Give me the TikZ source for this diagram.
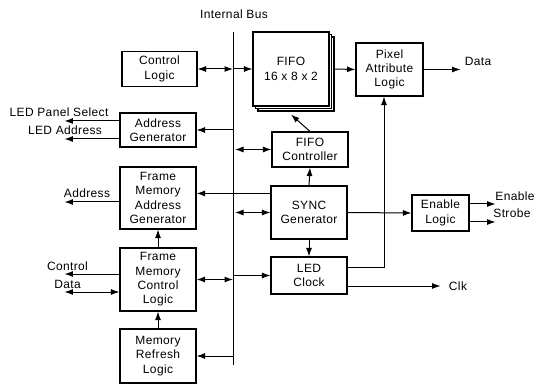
\documentclass[tikz,border=0pt]{standalone}
\usepackage{fontspec}
\setmainfont{Liberation Sans}[LetterSpace=3]
\usetikzlibrary{arrows.meta,shadows}
\begin{document}
\begin{tikzpicture}[x=1pt,y=-1pt,
  blk/.style={draw,line width=1.1pt,fill=white,inner sep=0pt,align=center,
    font=\fontsize{12}{14.3}\selectfont},
  lbl/.style={inner sep=0pt,font=\fontsize{12}{14.3}\selectfont},
  conn/.style={line width=1pt},
  arr/.style={conn,-{Latex[length=8.5pt,width=6pt]}},
  darr/.style={conn,{Latex[length=8.5pt,width=6pt]}-{Latex[length=8.5pt,width=6pt]}}]
\useasboundingbox (0,0) rectangle (544,385);
% bus
\coordinate (bustop) at (233,32);
\coordinate (busbot) at (233,365);
\draw[conn] (bustop) -- (busbot);
\node[lbl] (buslbl) at (234,14) {Internal Bus};
% blocks
\node[blk,minimum width=75pt,minimum height=35pt] (ctrl) at (159.5,69) {Control\\Logic};
\node[blk,minimum width=76pt,minimum height=74pt,
  double copy shadow={shadow xshift=2.5pt,shadow yshift=-2.5pt,fill=white,draw,line width=1.1pt}] (fifo) at (291,69) {FIFO\\16 x 8 x 2};
\node[blk,minimum width=67pt,minimum height=53pt] (pix) at (389.5,69.5) {Pixel\\Attribute\\Logic};
\node[blk,minimum width=76pt,minimum height=34pt] (addr) at (158,130) {Address\\Generator};
\node[blk,minimum width=76pt,minimum height=35pt] (fifoc) at (310,149.5) {FIFO\\Controller};
\node[blk,minimum width=76pt,minimum height=62pt] (fmag) at (158,198) {Frame\\Memory\\Address\\Generator};
\node[blk,minimum width=76pt,minimum height=53pt] (sync) at (309,212.5) {SYNC\\Generator};
\node[blk,minimum width=57pt,minimum height=36pt] (enab) at (440.5,213) {Enable\\Logic};
\node[blk,minimum width=76pt,minimum height=37pt] (ledc) at (309,275.5) {LED\\Clock};
\node[blk,minimum width=76pt,minimum height=63pt] (fmcl) at (158,279.5) {Frame\\Memory\\Control\\Logic};
\node[blk,minimum width=76pt,minimum height=54pt] (mrl) at (158,356) {Memory\\Refresh\\Logic};
% labels
\node[lbl] (lpsl) at (59,112) {LED Panel Select};
\node[lbl] (ladl) at (65,130) {LED Address};
\node[lbl] (adrl) at (87,193) {Address};
\node[lbl] (ctll) at (67.5,266) {Control};
\node[lbl] (datl) at (67.5,284) {Data};
\node[lbl] (dat2) at (478,61) {Data};
\node[lbl] (enl) at (515,196) {Enable};
\node[lbl] (stl) at (512,213) {Strobe};
\node[lbl] (clkl) at (458,286) {Clk};
% connectors
\draw[darr] (ctrl.east) -- (bustop |- ctrl.east);
\draw[arr] (bustop |- fifo.west) -- (fifo.west);
\draw[arr] ([xshift=5pt]fifo.east) -- (pix.west);
\draw[arr] (pix.east) -- ++(37,0) coordinate (e0);
\draw[arr] (bustop |- addr.east) -- (addr.east);
\draw[arr] ([yshift=9pt]addr.west) -- ++(-55,0) coordinate (e1);
\draw[arr] ([yshift=-9pt]addr.west) -- ++(-55,0) coordinate (e2);
\draw[darr] ([xshift=2pt]bustop |- fifoc.west) -- (fifoc.west);
\draw[arr] (fifoc.north) -- ([yshift=-8pt]fifo.south);
\draw[arr] ([yshift=-8pt]sync.north west) -- ([yshift=-8pt]sync.north west -| fmag.east);
\draw[arr] ([yshift=-4pt]fmag.west) -- ++(-55,0) coordinate (e3);
\draw[darr] ([xshift=2pt]bustop |- sync.west) -- (sync.west);
\draw[arr] (sync.north) -- (fifoc.south);
\draw[arr] (sync.east) -- (enab.west);
\draw[arr] ([yshift=9pt]enab.east) -- ++(26,0) coordinate (e4);
\draw[arr] ([yshift=-9pt]enab.east) -- ++(26,0) coordinate (e5);
\draw[arr] (sync.south) -- (ledc.north);
\draw[arr] (bustop |- ledc.west) -- (ledc.west);
\draw[arr] ([yshift=8.5pt]ledc.east) -| ([xshift=-5.5pt]pix.south);
\draw[arr] ([yshift=-10.5pt]ledc.east) -- ++(93,0) coordinate (e6);
\draw[arr] (fmcl.north) -- (fmag.south);
\draw[darr] (fmcl.east) -- (bustop |- fmcl.east);
\draw[arr] ([yshift=5.5pt]fmcl.west) -- ++(-55,0) coordinate (e7);
\draw[darr] ([yshift=-12.5pt]fmcl.west) -- ++(-55,0) coordinate (e8);
\draw[arr] (mrl.north) -- (fmcl.south);
\draw[arr] (bustop |- mrl.east) -- (mrl.east);
\end{tikzpicture}
\end{document}
